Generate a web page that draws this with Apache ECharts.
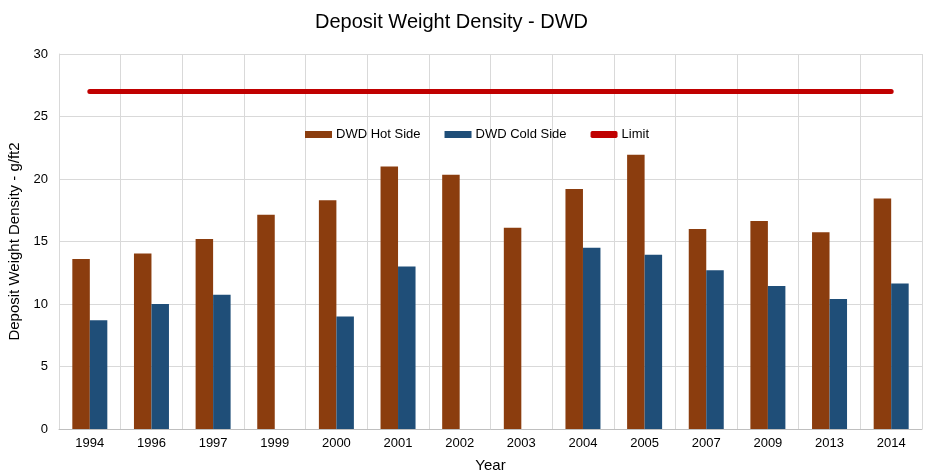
<!DOCTYPE html>
<html>
<head>
<meta charset="utf-8">
<script src="https://cdn.jsdelivr.net/npm/echarts@6/dist/echarts.min.js"></script>
<style>html,body{margin:0;padding:0;background:#fff;}#c{width:938px;height:473px;}</style>
</head>
<body>
<div id="c"></div>
<script>
var years = ['1994','1996','1997','1999','2000','2001','2002','2003','2004','2005','2007','2009','2013','2014'];
var hotSide = [13.6, 14.05, 15.2, 17.15, 18.3, 21.0, 20.35, 16.1, 19.2, 21.95, 16.0, 16.65, 15.75, 18.45];
var coldSide = [8.7, 10.0, 10.75, null, 9.0, 13.0, null, null, 14.5, 13.95, 12.7, 11.45, 10.4, 11.65];
var limit = [27, 27, 27, 27, 27, 27, 27, 27, 27, 27, 27, 27, 27, 27];
var yTicks = [0, 5, 10, 15, 20, 25, 30];

var chart = echarts.init(document.getElementById('c'));
var font = 'Liberation Sans, Arial, sans-serif';
chart.setOption({
  animation: false,
  textStyle: { fontFamily: font },
  title: {
    text: 'Deposit Weight Density - DWD',
    left: 310, top: 7,
    textStyle: { fontSize: 20, fontWeight: 'normal', color: '#000', fontFamily: font }
  },
  legend: {
    top: 123, left: 300,
    itemWidth: 27, itemHeight: 7, itemGap: 24,
    textStyle: { fontSize: 13, color: '#000', fontFamily: font, padding: [0,0,0,-1] },
    data: [
      { name: 'DWD Hot Side', icon: 'rect' },
      { name: 'DWD Cold Side', icon: 'rect' },
      { name: 'Limit', icon: 'roundRect' }
    ]
  },
  grid: { left: 59, right: 16, top: 54, bottom: 44, outerBoundsMode: 'none', containLabel: false },
  xAxis: {
    type: 'category',
    data: years,
    name: 'Year', nameLocation: 'middle', nameGap: 29,
    nameTextStyle: { fontSize: 15, color: '#000', fontFamily: font },
    axisLine: { lineStyle: { color: '#bfbfbf' } },
    axisTick: { show: false },
    axisLabel: { fontSize: 13, color: '#000', margin: 8 },
    splitLine: { show: true, lineStyle: { color: '#d9d9d9' } }
  },
  yAxis: {
    type: 'value', min: 0, max: 30, interval: 5,
    name: 'Deposit Weight Density - g/ft2', nameLocation: 'middle', nameGap: 32,
    nameTextStyle: { fontSize: 15, color: '#000', fontFamily: font },
    axisLine: { show: true, lineStyle: { color: '#d9d9d9' } },
    axisTick: { show: false },
    axisLabel: { fontSize: 13, color: '#000', margin: 11, formatter: function (v) { return yTicks.indexOf(v) >= 0 ? String(v) : ''; } },
    splitLine: { show: true, lineStyle: { color: '#d9d9d9' } }
  },
  series: [
    { name: 'DWD Hot Side', type: 'bar', data: hotSide, barWidth: 17.5, barGap: '0%', itemStyle: { color: '#8B3D0E' } },
    { name: 'DWD Cold Side', type: 'bar', data: coldSide, barWidth: 17.5, barGap: '0%', itemStyle: { color: '#1F4E78' } },
    { name: 'Limit', type: 'line', data: limit, symbol: 'none', lineStyle: { color: '#C00000', width: 5, cap: 'round' }, itemStyle: { color: '#C00000' } }
  ]
});
</script>
</body>
</html>
